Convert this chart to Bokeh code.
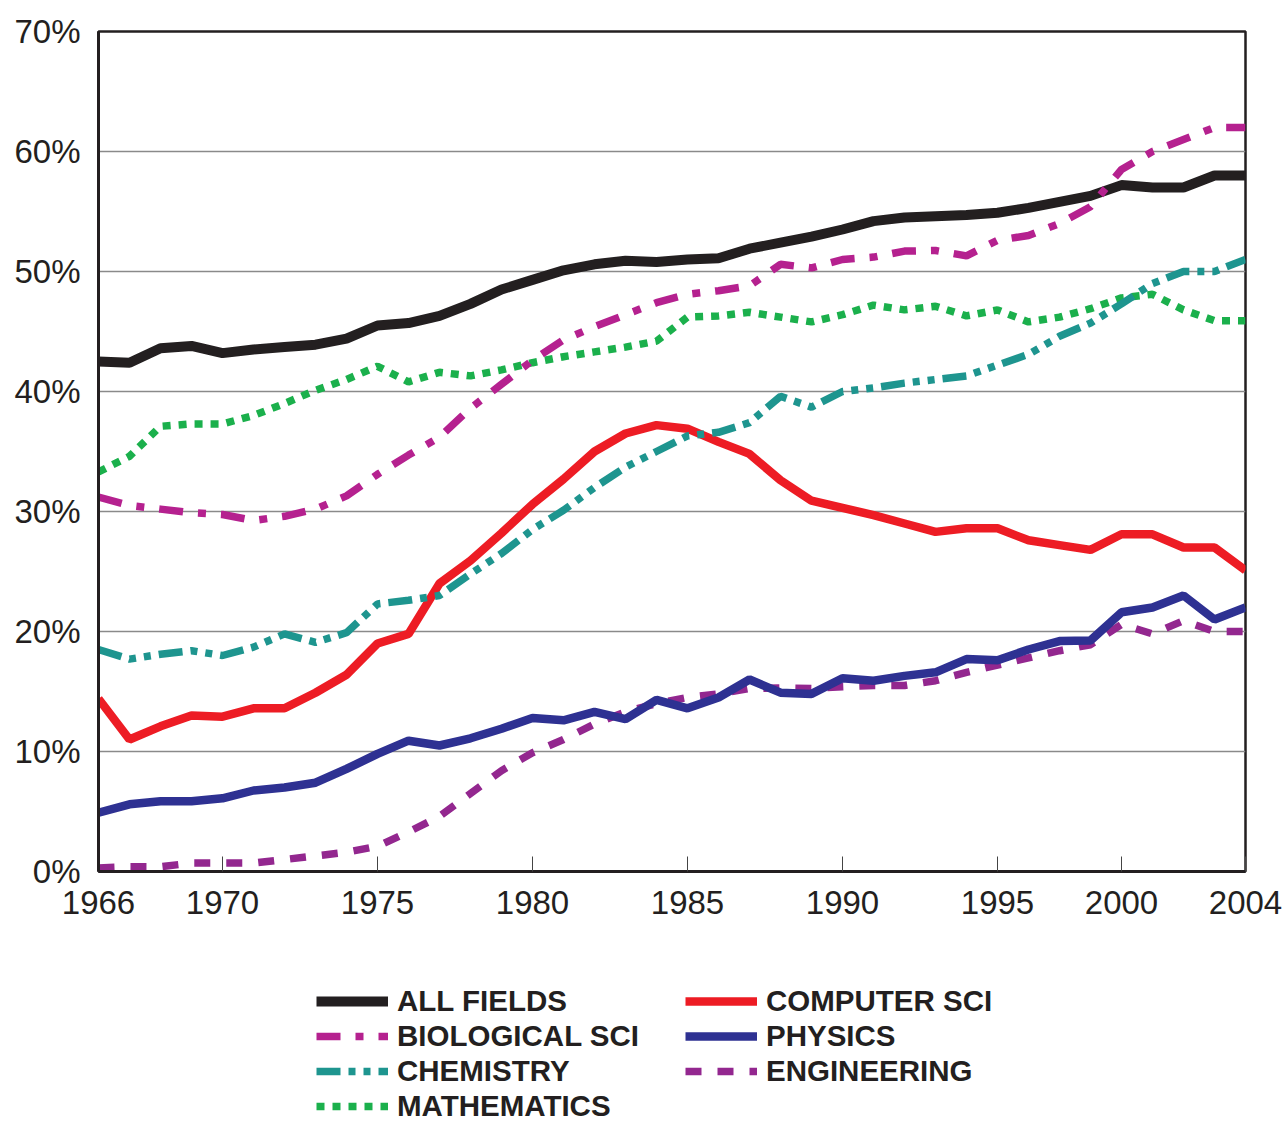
from bokeh.plotting import figure
from bokeh.layouts import column
from bokeh.models import (Range1d, FixedTicker, PrintfTickFormatter, Legend, LegendItem,
                          ColumnDataSource)
from bokeh.embed import file_html
from bokeh.resources import INLINE

# Years with data (no 1999 data point)
years = list(range(1966, 1999)) + [2000, 2001, 2002, 2003, 2004]
tick_years = [1966, 1970, 1975, 1980, 1985, 1990, 1995, 2000, 2004]
y_ticks = [0, 10, 20, 30, 40, 50, 60, 70]

all_fields = [42.5, 42.4, 43.6, 43.8, 43.2, 43.5, 43.7, 43.9, 44.4, 45.5, 45.7, 46.3,
              47.3, 48.5, 49.3, 50.1, 50.6, 50.9, 50.8, 51.0, 51.1, 51.9, 52.4, 52.9, 53.5,
              54.2, 54.5, 54.6, 54.7, 54.9, 55.3, 55.8, 56.3, 57.2, 57.0, 57.0, 58.0, 58.0]
biological = [31.2, 30.5, 30.2, 29.9, 29.75, 29.25, 29.6, 30.2, 31.3, 33.1, 34.7, 36.2,
              38.6, 40.6, 42.6, 44.3, 45.4, 46.4, 47.4, 48.1, 48.4, 48.8, 50.6, 50.3, 51.0,
              51.2, 51.7, 51.75, 51.3, 52.6, 53.0, 54.0, 55.4, 58.5, 60.0, 61.0, 62.0, 62.0]
chemistry = [18.5, 17.7, 18.1, 18.4, 18.0, 18.7, 19.8, 19.1, 19.9, 22.3, 22.6, 23.0,
             24.8, 26.5, 28.5, 30.1, 32.0, 33.7, 35.0, 36.3, 36.6, 37.4, 39.6, 38.7, 40.0,
             40.3, 40.7, 41.0, 41.3, 42.2, 43.1, 44.6, 45.7, 47.3, 49.0, 50.0, 50.0, 51.0]
mathematics = [33.3, 34.6, 37.1, 37.3, 37.3, 38.0, 39.0, 40.1, 41.0, 42.1, 40.8, 41.6,
               41.3, 41.8, 42.4, 42.9, 43.3, 43.7, 44.2, 46.2, 46.3, 46.6, 46.2, 45.8, 46.4,
               47.2, 46.8, 47.1, 46.3, 46.8, 45.8, 46.2, 46.9, 47.8, 48.1, 46.8, 45.9, 45.9]
computer = [14.4, 11.0, 12.1, 13.0, 12.9, 13.6, 13.6, 14.9, 16.4, 19.0, 19.8, 24.0,
            25.9, 28.2, 30.6, 32.7, 35.0, 36.5, 37.2, 36.9, 35.8, 34.8, 32.6, 30.9, 30.3,
            29.7, 29.0, 28.3, 28.6, 28.6, 27.6, 27.2, 26.8, 28.1, 28.1, 27.0, 27.0, 25.1]
physics = [4.9, 5.6, 5.85, 5.85, 6.1, 6.75, 7.0, 7.4, 8.55, 9.8, 10.9, 10.5,
           11.1, 11.9, 12.8, 12.6, 13.3, 12.7, 14.3, 13.6, 14.5, 16.0, 14.9, 14.8, 16.1,
           15.9, 16.3, 16.6, 17.7, 17.6, 18.5, 19.2, 19.25, 21.6, 22.0, 23.0, 21.0, 22.0]
engineering = [0.3, 0.4, 0.4, 0.7, 0.7, 0.7, 1.0, 1.3, 1.6, 2.1, 3.3, 4.6,
               6.5, 8.4, 9.9, 11.0, 12.3, 13.3, 14.0, 14.5, 14.8, 15.25, 15.3, 15.25, 15.4,
               15.5, 15.5, 15.9, 16.6, 17.2, 17.8, 18.4, 18.9, 20.6, 19.8, 20.9, 20.0, 20.0]

idx = list(range(len(years)))
src = ColumnDataSource(dict(x=idx, all_fields=all_fields, biological=biological,
                            chemistry=chemistry, mathematics=mathematics,
                            computer=computer, physics=physics, engineering=engineering))

FONT = "Liberation Sans"
TXT = "#231f20"

# (column, label, color, width, dash) in drawing order
series = [("all_fields", "ALL FIELDS", "#231f20", 10, "solid"),
          ("computer", "COMPUTER SCI", "#ed1c24", 8.5, "solid"),
          ("engineering", "ENGINEERING", "#93278f", 7.5, "16 16"),
          ("physics", "PHYSICS", "#2e3192", 8.5, "solid"),
          ("mathematics", "MATHEMATICS", "#1bb04c", 7.5, "8 8"),
          ("biological", "BIOLOGICAL SCI", "#b5218f", 7.5, "24 15 8 15"),
          ("chemistry", "CHEMISTRY", "#1e958f", 7.5, "24 8 7 8 7 8")]


def add_lines(fig):
    out = {}
    for col, label, color, w, dash in series:
        out[label] = fig.line("x", col, source=src, line_color=color, line_width=w, line_dash=dash)
    return out


# ---------------- main chart ----------------
p = figure(width=1284, height=960,
           x_range=Range1d(0, len(years) - 1), y_range=Range1d(0, 70),
           output_backend="svg", toolbar_location=None,
           min_border_left=98, min_border_right=39, min_border_top=31, min_border_bottom=89)

p.outline_line_color = TXT
p.outline_line_width = 2.5
p.background_fill_color = "white"
p.border_fill_color = "white"

xa = p.xaxis[0]
xa.ticker = FixedTicker(ticks=[years.index(y) for y in tick_years])
xa.major_label_overrides = {years.index(y): str(y) for y in tick_years}
xa.major_tick_in = 15
xa.major_tick_out = 0
xa.major_tick_line_color = "#444444"
xa.major_tick_line_width = 1
xa.minor_tick_line_color = None
xa.axis_line_color = TXT
xa.axis_line_width = 3
xa.major_label_text_font = FONT
xa.major_label_text_font_size = "33px"
xa.major_label_text_color = TXT
xa.major_label_standoff = 19

ya = p.yaxis[0]
ya.ticker = FixedTicker(ticks=y_ticks)
ya.formatter = PrintfTickFormatter(format="%d%%")
ya.major_tick_in = 0
ya.major_tick_out = 0
ya.minor_tick_line_color = None
ya.axis_line_color = TXT
ya.axis_line_width = 3
ya.major_label_text_font = FONT
ya.major_label_text_font_size = "33px"
ya.major_label_text_color = TXT
ya.major_label_standoff = 18

p.xgrid.visible = False
p.ygrid.ticker = FixedTicker(ticks=y_ticks)
p.ygrid.grid_line_color = "#8a8a8a"
p.ygrid.grid_line_width = 1.5

add_lines(p)

# ---------------- legend strip ----------------
lg = figure(width=1284, height=161, x_range=Range1d(-200, -100), y_range=Range1d(-200, -100),
            output_backend="svg", toolbar_location=None,
            x_axis_location=None, y_axis_location=None,
            min_border_left=0, min_border_right=0, min_border_top=0, min_border_bottom=0)
lg.outline_line_color = None
lg.grid.visible = False
lg.background_fill_color = "white"
lg.border_fill_color = "white"
lr = add_lines(lg)  # same series, outside the visible range: used only as legend samples

common = dict(label_text_font=FONT, label_text_font_style="bold", label_text_font_size="29.5px",
              label_text_color=TXT, glyph_width=72, glyph_height=28, label_height=28,
              label_standoff=9, spacing=1, padding=0, margin=0,
              border_line_color=None, background_fill_alpha=0)

col1 = ["ALL FIELDS", "BIOLOGICAL SCI", "CHEMISTRY", "MATHEMATICS"]
col2 = ["COMPUTER SCI", "PHYSICS", "ENGINEERING"]
leg1 = Legend(items=[LegendItem(label=n, renderers=[lr[n]]) for n in col1],
              location=(218, -2), **common)
leg2 = Legend(items=[LegendItem(label=n, renderers=[lr[n]]) for n in col2],
              location=(587, 33), **common)
lg.add_layout(leg1, "center")
lg.add_layout(leg2, "center")

open("out.html", "w").write(file_html(column(p, lg, spacing=0), INLINE))
